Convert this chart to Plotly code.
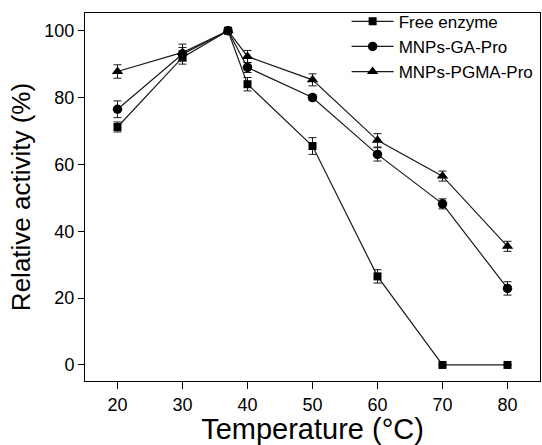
import plotly.graph_objects as go

temps = [20, 30, 37, 40, 50, 60, 70, 80]
free_enzyme = [71.2, 92.0, 100, 84.0, 65.5, 26.5, 0, 0]
free_err = [1.5, 2.0, 0.8, 2.0, 2.5, 2.0, 0, 0]
mnps_ga = [76.5, 93.0, 100, 89.0, 80.0, 63.0, 48.2, 22.9]
ga_err = [2.5, 2.0, 0.8, 1.5, 0.8, 2.0, 1.5, 2.0]
mnps_pgma = [87.8, 93.5, 100, 92.3, 85.3, 67.2, 56.5, 35.5]
pgma_err = [2.0, 2.5, 0.8, 1.8, 1.8, 2.0, 1.5, 1.5]

names = ["Free enzyme", "MNPs-GA-Pro", "MNPs-PGMA-Pro"]
symbols = ["square", "circle", "triangle-up"]
sizes = [8, 9.5, 10]
series = [(free_enzyme, free_err), (mnps_ga, ga_err), (mnps_pgma, pgma_err)]

fig = go.Figure()
for name, sym, sz, (vals, errs) in zip(names, symbols, sizes, series):
    fig.add_trace(go.Scatter(
        x=temps, y=vals, name=name, mode="lines+markers",
        line=dict(color="#1a1a1a", width=1.2),
        marker=dict(symbol=sym, size=sz, color="black"),
        error_y=dict(type="data", array=errs, visible=True, color="#1a1a1a",
                     thickness=1, width=4),
    ))

font_family = "Arial, Liberation Sans, sans-serif"
fig.update_layout(
    width=542, height=445,
    margin=dict(l=85, r=2, t=13, b=64),
    paper_bgcolor="white", plot_bgcolor="white",
    font=dict(family=font_family, color="black", size=17),
    showlegend=True,
    legend=dict(x=0.575, y=1.025, xanchor="left", yanchor="top",
                bgcolor="rgba(0,0,0,0)", font=dict(size=17),
                tracegroupgap=0, itemwidth=42),
)
fig.update_xaxes(
    range=[15, 85], tickvals=[20, 30, 40, 50, 60, 70, 80],
    showline=True, linecolor="black", linewidth=1, mirror=True,
    ticks="outside", ticklen=7, tickcolor="black", showgrid=False, zeroline=False,
    tickfont=dict(size=18),
    title=dict(text="Temperature (°C)", font=dict(size=29), standoff=6),
)
fig.update_yaxes(
    range=[-4.8, 105.3], tickvals=[0, 20, 40, 60, 80, 100],
    showline=True, linecolor="black", linewidth=1, mirror=True,
    ticks="outside", ticklen=6, tickcolor="black", showgrid=False, zeroline=False,
    tickfont=dict(size=18),
    title=dict(text="Relative activity (%)", font=dict(size=26), standoff=6),
)
fig.write_html("out.html")
